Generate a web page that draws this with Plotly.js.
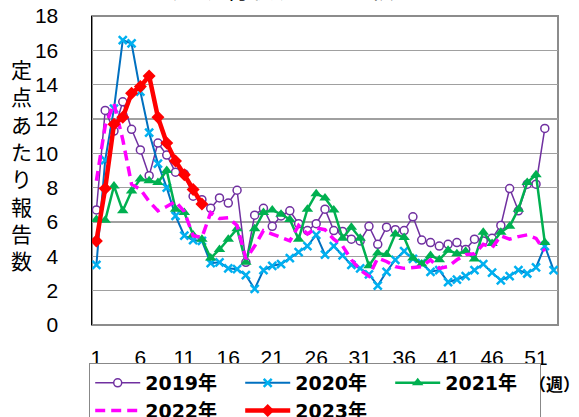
<!DOCTYPE html>
<html>
<head>
<meta charset="utf-8">
<script src="https://cdn.plot.ly/plotly-3.0.1.min.js"></script>
<style>html,body{margin:0;padding:0;background:#fff;}#chart{width:579px;height:417px;}</style>
</head>
<body>
<div id="chart"></div>
<script>
const weeks = Array.from({length: 53}, (_, i) => i + 1);
const xTicks = [1, 6, 11, 16, 21, 26, 31, 36, 41, 46, 51];
const seriesNames = ["2019年", "2020年", "2021年", "2022年", "2023年"];

const y2019 = [6.7, 12.5, 11.3, 13.0, 11.4, 10.2, 8.7, 10.6, 9.9, 8.9, 8.8, 7.5, 7.3, 6.8, 7.4, 7.1, 7.85, 3.65,
  6.4, 6.8, 5.75, 6.35, 6.65, 5.9, 5.5, 5.9, 6.75, 5.5, 5.45, 5.0, 4.9, 5.75, 4.7, 5.7, 5.55, 5.5, 6.3, 4.95,
  4.8, 4.6, 4.7, 4.8, 4.4, 5.0, 4.9, 5.05, 5.8, 7.95, 6.65, 8.2, 8.2, 11.45];
const y2020 = [3.5, 9.6, 12.6, 16.6, 16.4, 13.6, 11.2, 9.4, 8.0, 6.35, 5.2, 4.95, 4.9, 3.6, 3.65, 3.3, 3.25, 2.9,
  2.1, 3.2, 3.45, 3.55, 3.9, 4.25, 4.6, 5.25, 4.1, 4.6, 4.05, 3.5, 3.3, 2.95, 2.3, 3.1, 3.8, 4.3, 3.85, 3.6,
  3.1, 3.2, 2.5, 2.65, 2.85, 3.2, 3.55, 3.05, 2.6, 2.85, 3.2, 3.0, 3.35, 4.6, 3.2];
const y2021 = [6.15, 6.1, 8.1, 6.65, 7.8, 8.5, 8.4, 8.3, 9.0, 6.75, 6.55, 5.25, 5.0, 3.9, 4.4, 5.0, 5.6, 3.65,
  5.6, 6.55, 6.7, 6.45, 6.15, 5.0, 6.75, 7.65, 7.4, 6.7, 5.05, 5.7, 5.05, 3.45, 4.2, 4.1, 5.3, 5.1, 3.9, 3.55,
  4.05, 3.8, 4.35, 4.15, 4.3, 3.85, 5.4, 4.75, 5.4, 5.75, 6.75, 8.3, 8.75, 4.8];
const y2022 = [8.4, 11.6, 12.9, 10.8, 8.2, 7.9, 7.2, 6.65, 6.9, 7.2, 6.6, 5.2, 5.1, 6.55, 6.2, 6.25, 5.8, 3.85,
  4.6, 5.5, 5.3, 5.1, 4.9, 5.8, 5.3, 5.65, 5.55, 5.0, 4.6, 3.8, 3.2, 2.85, 3.9, 3.7, 3.4, 3.3, 3.35, 3.4,
  3.8, 3.3, 3.4, 3.8, 4.1, 4.15, 4.7, 4.5, 5.2, 5.0, 5.15, 5.25, 5.05, 4.3];
const y2023 = [4.9, 7.95, 11.7, 12.1, 13.5, 13.9, 14.5, 12.1, 10.6, 9.55, 8.75, 7.9, 7.05];

const NUMFONT = "Liberation Sans, Arial, Noto Sans CJK JP, sans-serif";
const LEGFONT = "DejaVu Sans, Noto Sans CJK JP, sans-serif";
const JPFONT = "Noto Sans CJK JP, sans-serif";

const traces = [
  {x: weeks.slice(0, y2019.length), y: y2019, name: seriesNames[0], mode: "lines+markers",
   line: {color: "#7030A0", width: 1.5},
   marker: {symbol: "circle", size: 8, color: "#ffffff", line: {color: "#7030A0", width: 1.5}}},
  {x: weeks.slice(0, y2020.length), y: y2020, name: seriesNames[1], mode: "lines+markers",
   line: {color: "#0070C0", width: 2},
   marker: {symbol: "x-thin", size: 8, color: "#00B0F0", line: {color: "#00B0F0", width: 2.5}}},
  {x: weeks.slice(0, y2021.length), y: y2021, name: seriesNames[2], mode: "lines+markers",
   line: {color: "#00B050", width: 2.5},
   marker: {symbol: "triangle-up", size: 10, color: "#00B050"}},
  {x: weeks.slice(0, y2022.length), y: y2022, name: seriesNames[3], mode: "lines",
   line: {color: "#FF00FF", width: 3.5, dash: "10px,6px"}},
  {x: weeks.slice(0, y2023.length), y: y2023, name: seriesNames[4], mode: "lines+markers",
   line: {color: "#FF0000", width: 4.5},
   marker: {symbol: "diamond", size: 10, color: "#FF0000"}}
];

const layout = {
  width: 579, height: 417,
  margin: {l: 92, r: 21, t: 16, b: 92, autoexpand: false},
  paper_bgcolor: "#ffffff", plot_bgcolor: "#ffffff",
  showlegend: true,
  xaxis: {
    range: [0.5, 53.5], tickvals: xTicks, ticktext: xTicks.map(String),
    showgrid: false, zeroline: false, showline: false, ticks: "",
    ticklabelstandoff: 18, automargin: false,
    tickfont: {family: NUMFONT, size: 21, color: "#000"}
  },
  yaxis: {
    range: [0, 18], dtick: 2, tick0: 0,
    showgrid: true, gridcolor: "#a0a0a0", gridwidth: 1.5, zeroline: false,
    showline: true, linecolor: "#000000", linewidth: 1.5, ticks: "",
    ticklabelstandoff: 28, automargin: false,
    tickfont: {family: NUMFONT, size: 21, color: "#000"}
  },
  legend: {
    orientation: "h", x: -0.006, xanchor: "left", y: -0.123, yanchor: "top",
    entrywidth: 90, entrywidthmode: "pixels", itemwidth: 45,
    bordercolor: "#888888", borderwidth: 1, bgcolor: "#ffffff",
    font: {family: LEGFONT, size: 19, color: "#000", weight: "bold"},
    tracegroupgap: 0
  },
  shapes: [
    {type: "rect", xref: "paper", yref: "paper", x0: 0, x1: 1, y0: 0, y1: 1,
     line: {color: "#8c8c8c", width: 2}, layer: "below"}
  ],
  annotations: [
    {text: "定<br>点<br>あ<br>た<br>り<br>報<br>告<br>数", xref: "paper", yref: "paper",
     x: -0.151, y: 0.52, xanchor: "center", yanchor: "middle", showarrow: false, align: "center",
     font: {family: JPFONT, size: 21, color: "#000"}},
    {text: "（週）", xref: "paper", yref: "paper", x: 1.052, y: -0.188, xanchor: "right", yanchor: "middle",
     showarrow: false, font: {family: JPFONT, size: 17, color: "#000", weight: "bold"}},
    {text: "過去の流行状況との比較", xref: "paper", yref: "paper", x: 0.365, y: 1.029, xanchor: "center",
     yanchor: "bottom", showarrow: false, font: {family: JPFONT, size: 24, color: "#000"}}
  ]
};

Plotly.newPlot("chart", traces, layout, {displayModeBar: false, staticPlot: true});
</script>
</body>
</html>
